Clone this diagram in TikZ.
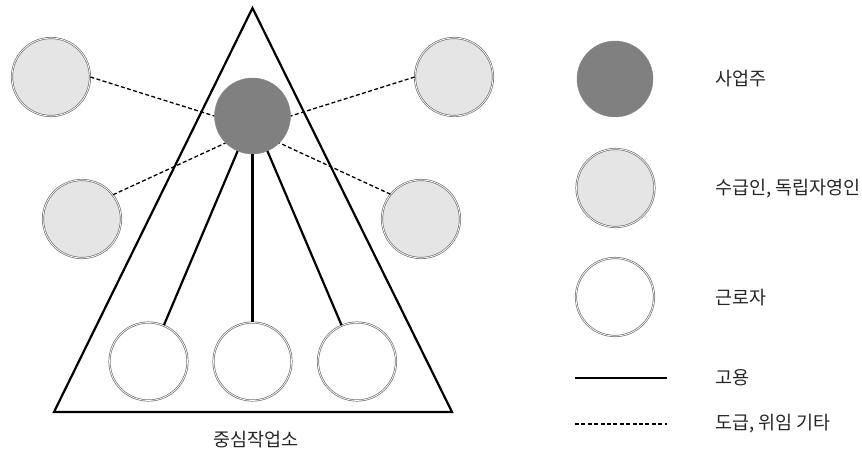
\documentclass[tikz,border=0pt]{standalone}
\usepackage{fontspec}
\setmainfont{Noto Sans CJK KR}
\begin{document}
\begin{tikzpicture}[x=1pt,y=-1pt,
  font=\fontsize{18.5}{22}\selectfont,
  member/.style={circle,minimum size=78pt,inner sep=0pt,draw=black!55,
    double=white,line width=0.7pt,double distance=0.7pt},
  owner/.style={circle,minimum size=76pt,inner sep=0pt,fill=black!50,draw=black!45,line width=0.4pt},
  contractor/.style={member,fill=black!10},
  worker/.style={member,fill=white},
  employ/.style={line width=2.2pt},
  contract/.style={line width=1.3pt,dash pattern=on 4pt off 2.4pt},
  legendtext/.style={anchor=west,inner sep=0pt,text=black!85}]
\useasboundingbox (0,0) rectangle (862,454);

% central workplace
\coordinate (apex) at (252.5,8);
\coordinate (bl) at (54,412);
\coordinate (br) at (452,412);
\draw[line width=2.2pt,line join=miter] (apex) -- (br) -- (bl) -- cycle;
\node[text=black!85] (site) at (256,440) {중심작업소};

% business owner and the people around it
\node[owner] (emp) at (252.5,116) {};
\node[contractor] (tl) at (51,77) {};
\node[contractor] (tr) at (454,77) {};
\node[contractor] (ml) at (82,219) {};
\node[contractor] (mr) at (421,219) {};
\node[worker] (w1) at (148.5,361.5) {};
\node[worker] (w2) at (252.5,361.5) {};
\node[worker] (w3) at (357,361.5) {};

% employment links
\draw[employ] (emp) -- (w1);
\draw[employ] (emp) -- (w2);
\draw[employ] (emp) -- (w3);

% contracting / mandate links
\draw[contract] (tl.east) -- (emp.west);
\draw[contract] (tr.west) -- (emp.east);
\draw[contract] (ml.38) -- (emp.south west);
\draw[contract] (mr.141) -- (emp.south east);

% legend
\node[owner] (lg1) at (615,79) {};
\node[contractor] (lg2) at (615.5,188) {};
\node[worker] (lg3) at (615,297) {};
\coordinate (lgs1) at (575,378);
\coordinate (lgs2) at (667,378);
\coordinate (lgd1) at (575,424);
\coordinate (lgd2) at (667,424);
\draw[employ] (lgs1) -- (lgs2);
\draw[contract] (lgd1) -- (lgd2);
\node[legendtext] (t1) at (715,79) {사업주};
\node[legendtext] (t2) at (715,189) {수급인, 독립자영인};
\node[legendtext] (t3) at (715,298) {근로자};
\node[legendtext] (t4) at (715,378) {고용};
\node[legendtext] (t5) at (715,424) {도급, 위임 기타};
\end{tikzpicture}
\end{document}
